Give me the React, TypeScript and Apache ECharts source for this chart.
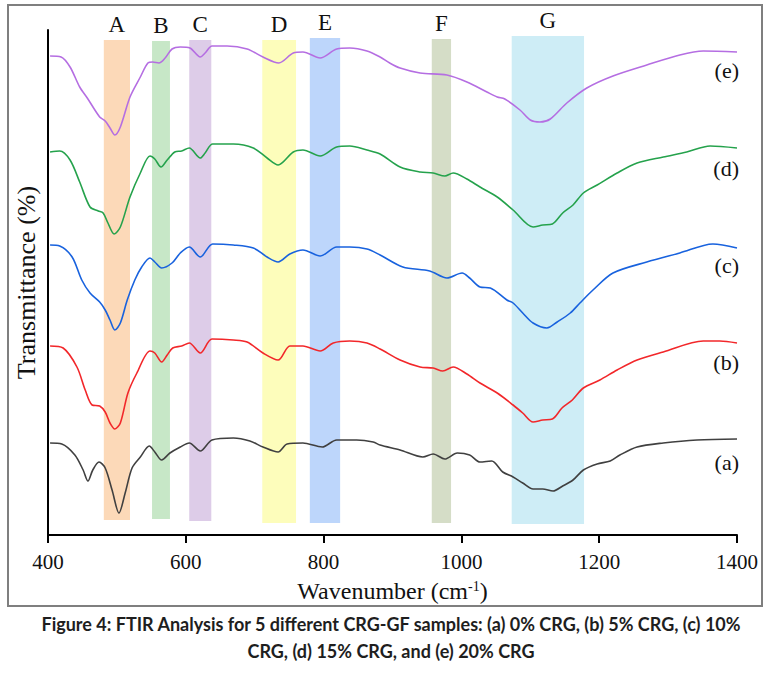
import { useEffect, useRef } from 'react';
import * as echarts from 'echarts';

// wavenumber (cm-1), transmittance (arbitrary offset units)
const curveA: [number, number][] = [
  [403, 18.4], [420, 18.2], [439, 16.0], [451, 13.0], [458, 10.8], [465, 13.0], [474, 14.6],
  [483, 13.4], [493, 9.0], [503, 4.4], [512, 8.4], [522, 13.4], [534, 15.6], [547, 17.8],
  [555, 16.6], [565, 15.0], [577, 16.4], [592, 17.6], [605, 18.4], [621, 16.8], [638, 19.0],
  [669, 19.4], [693, 18.8], [712, 17.6], [734, 16.6], [747, 18.2], [770, 18.4], [798, 17.6],
  [819, 19.0], [848, 19.0], [872, 18.6], [882, 18.0], [911, 17.0], [944, 15.6], [959, 16.2],
  [976, 15.2], [994, 16.4], [1012, 16.0], [1027, 14.6], [1044, 14.8], [1060, 12.6], [1075, 11.6],
  [1089, 10.4], [1104, 9.2], [1118, 9.2], [1133, 8.8], [1147, 9.8], [1162, 11.0], [1177, 13.0],
  [1197, 14.2], [1216, 14.8], [1230, 16.0], [1255, 17.6], [1293, 18.4], [1342, 19.0], [1400, 19.2],
];

const curveB: [number, number][] = [
  [403, 37.8], [422, 37.4], [442, 33.6], [454, 29.0], [464, 26.0], [475, 25.8], [483, 24.6],
  [490, 22.4], [497, 21.2], [505, 22.4], [516, 28.4], [529, 32.4], [548, 36.8], [555, 36.4],
  [565, 34.6], [573, 36.0], [581, 37.4], [594, 37.8], [605, 38.4], [621, 36.4], [638, 39.2],
  [669, 39.0], [689, 38.6], [712, 36.4], [734, 35.0], [751, 37.8], [770, 37.8], [795, 36.8],
  [814, 38.4], [838, 38.8], [863, 38.4], [882, 37.2], [911, 35.0], [940, 33.6], [959, 33.4],
  [973, 32.8], [988, 33.6], [1008, 32.2], [1027, 30.4], [1052, 28.4], [1075, 26.0], [1089, 24.4],
  [1104, 22.6], [1118, 23.0], [1132, 23.2], [1146, 25.4], [1161, 27.0], [1177, 29.4], [1201, 31.0],
  [1226, 33.0], [1255, 35.0], [1293, 36.6], [1351, 38.8], [1375, 38.8], [1400, 38.4],
];

const curveC: [number, number][] = [
  [403, 58.0], [417, 57.8], [435, 55.6], [449, 51.0], [461, 48.4], [475, 46.6], [483, 45.0],
  [490, 43.0], [497, 41.0], [505, 42.4], [515, 47.0], [526, 51.0], [536, 53.6], [548, 55.4],
  [555, 54.6], [565, 53.4], [580, 54.4], [592, 56.4], [605, 57.6], [621, 55.6], [639, 58.2],
  [669, 58.0], [698, 57.4], [718, 55.6], [734, 54.6], [751, 56.2], [770, 57.0], [795, 55.8],
  [819, 57.6], [838, 57.6], [863, 57.2], [882, 56.0], [915, 53.6], [954, 52.8], [979, 51.4],
  [1001, 52.4], [1012, 51.4], [1027, 49.6], [1042, 49.4], [1066, 47.0], [1075, 46.4], [1089, 44.4],
  [1104, 42.4], [1124, 41.4], [1139, 42.6], [1158, 44.4], [1172, 46.4], [1191, 49.0], [1220, 52.4],
  [1269, 54.6], [1317, 56.4], [1365, 58.2], [1400, 57.4],
];

const curveD: [number, number][] = [
  [403, 76.6], [417, 76.8], [432, 75.0], [446, 70.6], [461, 65.6], [473, 64.8], [480, 64.4],
  [487, 62.4], [496, 60.2], [505, 61.6], [519, 67.6], [534, 72.4], [548, 75.8], [555, 75.2],
  [564, 73.6], [573, 75.0], [584, 76.6], [594, 76.8], [605, 77.4], [621, 75.4], [628, 76.4],
  [639, 78.2], [669, 78.2], [698, 77.4], [718, 75.4], [734, 74.0], [756, 76.6], [770, 77.0],
  [795, 75.8], [819, 77.6], [838, 77.8], [863, 77.0], [882, 76.2], [911, 73.6], [940, 72.6],
  [959, 72.4], [976, 71.8], [988, 72.4], [1008, 71.2], [1027, 69.6], [1052, 67.6], [1075, 65.0],
  [1104, 61.6], [1118, 62.0], [1132, 62.2], [1147, 64.4], [1162, 66.0], [1177, 68.4], [1197, 70.0],
  [1226, 72.4], [1255, 74.4], [1293, 75.6], [1327, 76.6], [1361, 77.8], [1400, 77.4],
];

const curveE: [number, number][] = [
  [403, 95.8], [419, 95.6], [432, 93.6], [446, 89.6], [457, 87.4], [475, 83.6], [483, 82.8],
  [490, 81.4], [497, 80.0], [505, 81.6], [519, 87.6], [534, 91.6], [545, 94.4], [552, 94.6],
  [561, 94.4], [570, 95.4], [580, 97.2], [592, 97.6], [606, 97.4], [621, 95.6], [628, 96.4],
  [638, 97.8], [660, 97.8], [689, 97.2], [712, 95.6], [735, 94.4], [756, 96.4], [770, 96.6],
  [795, 95.4], [819, 97.2], [838, 97.4], [863, 96.8], [882, 95.6], [896, 94.4], [911, 93.4],
  [940, 92.4], [979, 92.0], [1008, 90.6], [1037, 88.6], [1052, 87.6], [1063, 87.2], [1085, 85.0],
  [1100, 83.0], [1114, 82.6], [1129, 83.2], [1153, 86.4], [1182, 89.4], [1220, 91.8], [1269, 94.0],
  [1317, 96.0], [1351, 96.8], [1400, 96.6],
];

const curves = [curveA, curveB, curveC, curveD, curveE];
const curveLabels = ['(a)', '(b)', '(c)', '(d)', '(e)'];
const curveColors = ['#404040', '#f2272a', '#1862de', '#25a24c', '#b56ee2'];
const labelDrop = [23, 19, 17, 20, 18];

// highlighted bands
const bandNames = ['A', 'B', 'C', 'D', 'E', 'F', 'G'];
const bandStart = [481, 551, 605, 711, 780, 957, 1073];
const bandEnd = [519, 577, 637, 760, 824, 985, 1178];
const bandTop = [99.0, 98.8, 99.0, 99.0, 99.4, 99.2, 99.8];
const bandBottom = [3.0, 3.2, 2.8, 2.4, 2.4, 2.4, 2.2];
const bandColors = ['#fcd9b8', '#c7e7c7', '#ddcce8', '#fdfdbb', '#bdd6fb', '#d5ddc7', '#ceedf6'];

const xTicks = { min: 400, max: 1400, interval: 200 };

const caption =
  'Figure 4: FTIR Analysis for 5 different CRG-GF samples: (a) 0% CRG, (b) 5% CRG, (c) 10%\nCRG, (d) 15% CRG, and (e) 20% CRG';

const serif = '"Liberation Serif", "Times New Roman", serif';

export default function App() {
  const chartRef = useRef<HTMLDivElement>(null);

  useEffect(() => {
    if (!chartRef.current) return;
    const chart = echarts.init(chartRef.current, undefined, { renderer: 'svg' });

    const bandSeries = {
      type: 'line',
      data: [],
      z: 1,
      silent: true,
      markArea: {
        silent: true,
        label: {
          show: true,
          position: 'top',
          distance: 4,
          color: '#111',
          fontFamily: serif,
          fontSize: 23,
        },
        data: bandNames.map((name, i) => [
          { name, xAxis: bandStart[i], yAxis: bandTop[i], itemStyle: { color: bandColors[i], opacity: 1 } },
          { xAxis: bandEnd[i], yAxis: bandBottom[i] },
        ]),
      },
    };

    const lineSeries = curves.map((data, i) => ({
      type: 'line',
      name: curveLabels[i],
      data,
      z: 3,
      smooth: 0.3,
      showSymbol: false,
      lineStyle: { color: curveColors[i], width: 1.6 },
      endLabel: {
        show: true,
        formatter: curveLabels[i],
        align: 'right',
        offset: [-6, labelDrop[i]],
        color: '#111',
        fontFamily: serif,
        fontSize: 22,
      },
    }));

    chart.setOption({
      animation: false,
      grid: { left: 48, top: 30, width: 689, height: 505 },
      xAxis: {
        type: 'value',
        ...xTicks,
        name: 'Wavenumber (cm{sup|-1})',
        nameLocation: 'middle',
        nameGap: 44,
        nameTextStyle: {
          color: '#111',
          fontFamily: serif,
          fontSize: 24,
          rich: { sup: { fontSize: 14, verticalAlign: 'top', fontFamily: serif, color: '#111', padding: [0, 0, 10, 0] } },
        },
        axisLine: { lineStyle: { color: '#000', width: 2 } },
        axisTick: { length: 8, lineStyle: { color: '#000', width: 2 } },
        axisLabel: {
          color: '#111',
          fontFamily: serif,
          fontSize: 21,
          margin: 16,
          formatter: (v: number) => String(v),
        },
        splitLine: { show: false },
      },
      yAxis: {
        type: 'value',
        min: 0,
        max: 101,
        name: 'Transmittance (%)',
        nameLocation: 'middle',
        nameGap: 9,
        nameTextStyle: { color: '#111', fontFamily: serif, fontSize: 26 },
        axisLine: { show: true, lineStyle: { color: '#000', width: 2 } },
        axisTick: { show: false },
        axisLabel: { show: false },
        splitLine: { show: false },
      },
      graphic: [
        {
          type: 'rect',
          shape: { x: 8, y: 5, width: 754, height: 601 },
          style: { fill: 'none', stroke: '#7f7f7f', lineWidth: 2 },
          silent: true,
        },
        {
          type: 'text',
          x: 391,
          y: 637,
          style: {
            text: caption,
            textAlign: 'center',
            textVerticalAlign: 'middle',
            fontFamily: 'Lato, "Open Sans", sans-serif',
            fontWeight: 'bold',
            fontSize: 18,
            lineHeight: 27,
            fill: '#1e1e1e',
          },
          silent: true,
        },
      ],
      series: [bandSeries, ...lineSeries],
    });

    return () => chart.dispose();
  }, []);

  return (
    <div
      ref={chartRef}
      style={{ position: 'absolute', left: 0, top: 0, width: 770, height: 691, background: '#fff' }}
    />
  );
}
